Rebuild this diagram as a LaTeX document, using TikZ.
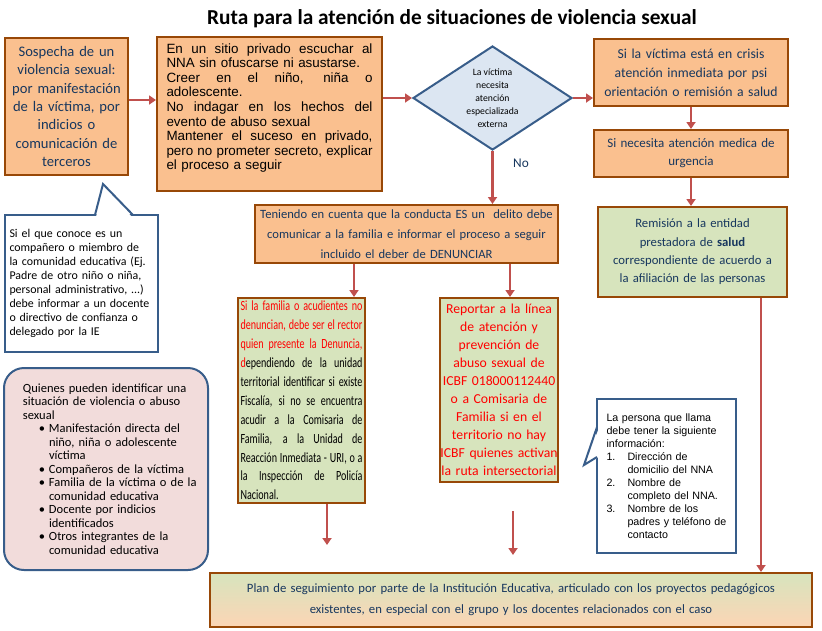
\documentclass[tikz,border=0pt]{standalone}
\usepackage{fontspec}
\setmainfont{Carlito}
\newfontfamily\arialfont{Liberation Sans}
\newfontfamily\narrowfont[FakeStretch=0.72]{Carlito}
\usetikzlibrary{arrows.meta,shapes.geometric}
\definecolor{boxorange}{RGB}{250,192,143}
\definecolor{boxgreen}{RGB}{215,228,189}
\definecolor{boxpeach}{RGB}{252,213,181}
\definecolor{boxbrown}{RGB}{152,72,7}
\definecolor{decisionblue}{RGB}{220,230,242}
\definecolor{noteblue}{RGB}{56,93,138}
\definecolor{notepink}{RGB}{242,220,219}
\definecolor{flowred}{RGB}{192,80,77}
\definecolor{navytext}{RGB}{23,55,94}
\definecolor{alertred}{RGB}{255,0,0}

% justified line, bullet item, numbered item
\newcommand{\jl}[1]{\makebox[\linewidth][s]{\spaceskip=\fontdimen2\font plus 1fil\relax#1}\\}
\newcommand{\bul}{\hangindent=26pt\hangafter=1\noindent\hspace*{16pt}\makebox[10pt][l]{\textbullet}}
\newcommand{\numit}[1]{\hangindent=21pt\hangafter=1\noindent\makebox[21pt][l]{#1}}

\tikzset{
  flowbox/.style={draw=boxbrown, line width=2pt, inner sep=0pt, text=navytext},
  orangebox/.style={flowbox, fill=boxorange},
  greenbox/.style={flowbox, fill=boxgreen},
  notebox/.style={draw=noteblue, line width=2pt, fill=white, inner sep=0pt, text=black, align=left},
  flow/.style={draw=flowred, line width=2.6pt, -{Triangle[length=7pt,width=9pt]}},
}

\begin{document}
\begin{tikzpicture}[x=1pt, y=-1pt]
  \useasboundingbox (0,0) rectangle (822,630);

  % Title
  \node[font=\bfseries\fontsize{21.3}{24}\selectfont] (title) at (452,19)
    {Ruta para la atención de situaciones de violencia sexual};

  % First row
  \node[orangebox, minimum width=123, minimum height=137, text width=115, align=center,
        font=\fontsize{14.6}{18.3}\selectfont] (sospecha) at (66.5,106.5)
    {Sospecha de un\\ violencia sexual:\\ por manifestación\\ de la víctima, por\\ indicios o\\ comunicación de\\ terceros};
  \node[orangebox, minimum width=225, minimum height=154, text width=206, align=left, text=black,
        font=\arialfont\fontsize{13.4}{14.6}\selectfont] (privado) at (269.5,114)
    {\jl{En un sitio privado escuchar al}
     NNA sin ofuscarse ni asustarse.\\
     \jl{Creer en el niño, niña o}
     adolescente.\\
     \jl{No indagar en los hechos del}
     evento de abuso sexual\\
     \jl{Mantener el suceso en privado,}
     \jl{pero no prometer secreto, explicar}
     el proceso a seguir\\ \mbox{}};
  \node[diamond, aspect=1.5, draw=noteblue, line width=2pt, fill=decisionblue, inner sep=0pt,
        minimum width=159, minimum height=104, align=center,
        font=\fontsize{9.7}{13}\selectfont] (decide) at (492.5,98)
    {La víctima\\ necesita\\ atención\\ especializada\\ externa};
  \node[font=\fontsize{13.3}{16}\selectfont, text=navytext] (nolabel) at (521,163) {No};

  % Right column
  \node[orangebox, minimum width=194, minimum height=67, text width=190, align=center,
        font=\fontsize{13.7}{19}\selectfont] (crisis) at (691,72.5)
    {Si la víctima está en crisis\\ atención inmediata por psi\\ orientación o remisión a salud};
  \node[orangebox, minimum width=194, minimum height=47, text width=190, align=center,
        font=\fontsize{13}{18}\selectfont] (urgencia) at (691,153.5)
    {Si necesita atención medica de\\ urgencia};
  \node[greenbox, minimum width=189, minimum height=90, text width=185, align=center,
        font=\fontsize{12.7}{18.3}\selectfont] (remision) at (692.5,252)
    {Remisión a la entidad\\ prestadora de \textbf{salud}\\ correspondiente de acuerdo a\\ la afiliación de las personas};

  % Middle column
  \node[orangebox, minimum width=303, minimum height=58, text width=303, align=center,
        font=\fontsize{12.6}{19.8}\selectfont] (denuncia) at (406.5,234)
    {Teniendo en cuenta que la conducta ES un\ \ delito debe\\
     comunicar a la familia e informar el proceso a seguir\\
     incluido el deber de DENUNCIAR};
  \node[greenbox, minimum width=127, minimum height=205, text width=122, align=left, text=black,
        font=\narrowfont\fontsize{14}{18.9}\selectfont] (familia) at (301.5,400.5)
    {\jl{\color{alertred}Si la familia o acudientes no}
     \jl{\color{alertred}denuncian, debe ser el rector}
     \jl{\color{alertred}quien presente la Denuncia,}
     \jl{\textcolor{alertred}{d}ependiendo de la unidad}
     \jl{territorial identificar si existe}
     \jl{Fiscalía, si no se encuentra}
     \jl{acudir a la Comisaria de}
     \jl{Familia, a la Unidad de}
     \jl{Reacción Inmediata - URI, o a}
     \jl{la Inspección de Policía}
     Nacional.};
  \node[greenbox, minimum width=118, minimum height=184, text width=124, inner xsep=-3pt,
        align=center, text=alertred, font=\fontsize{13.7}{18}\selectfont] (linea) at (499,390)
    {Reportar a la línea\\ de atención y\\ prevención de\\ abuso sexual de\\ ICBF 018000112440\\
     o a Comisaria de\\ Familia si en el\\ territorio no hay\\ ICBF quienes activan\\ la ruta intersectorial};

  % Bottom
  \node[flowbox, top color=boxgreen, bottom color=boxpeach, minimum width=602, minimum height=54,
        text width=595, align=center, font=\fontsize{12.7}{21}\selectfont] (plan) at (511,600)
    {Plan de seguimiento por parte de la Institución Educativa, articulado con los proyectos pedagógicos\\
     existentes, en especial con el grupo y los docentes relacionados con el caso};

  % Notes
  \node[notebox, minimum width=153, minimum height=137, text width=144,
        font=\fontsize{11.9}{14}\selectfont] (conoce) at (81.5,283.5)
    {Si el que conoce es un\\ compañero o miembro de\\ la comunidad educativa (Ej.\\
     Padre de otro niño o niña,\\ personal administrativo, ...)\\ debe informar a un docente\\
     o directivo de confianza o\\ delegado por la IE};
  \fill[white] (96,217) -- (103,185) -- (132,217) -- cycle;
  \draw[noteblue, line width=2pt, line join=miter] (95,215) -- (103,184) -- (133,215);

  \node[notebox, fill=notepink, rounded corners=20pt, minimum width=204, minimum height=202,
        text width=190, font=\fontsize{12.5}{13.5}\selectfont] (quienes) at (106,469)
    {\leftskip=12pt Quienes pueden identificar una\newline situación de violencia o abuso\newline sexual\par
     \bul Manifestación directa del\newline niño, niña o adolescente\newline víctima\par
     \bul Compañeros de la víctima\par
     \bul Familia de la víctima o de la\newline comunidad educativa\par
     \bul Docente por indicios\newline identificados\par
     \bul Otros integrantes de la\newline comunidad educativa\par};

  \node[notebox, minimum width=139, minimum height=154, text width=126,
        font=\arialfont\fontsize{10.7}{13}\selectfont] (llama) at (666.5,476)
    {\leftskip=3pt La persona que llama\newline debe tener la siguiente\newline información:\par
     \numit{1.}Dirección de\newline domicilio del NNA\par
     \numit{2.}Nombre de\newline completo del NNA.\par
     \numit{3.}Nombre de los\newline padres y teléfono de\newline contacto\par};
  \fill[white] (599,428) -- (584,465) -- (599,457) -- cycle;
  \draw[noteblue, line width=2pt, line join=miter] (597,427) -- (584,465) -- (597,457);

  % Arrows
  \draw[flow] ([yshift=6.5]sospecha.east) -- ([yshift=6.5]sospecha.east -| privado.west);
  \draw[flow] (privado.east |- decide.west) -- (decide.west);
  \draw[flow] (decide.east) -- (decide.east -| crisis.west);
  \draw[flow] (crisis.south) -- (urgencia.north);
  \draw[flow] (urgencia.south) -- (urgencia.south |- remision.north);
  \draw[flow] ([xshift=-27]remision.south east) -- ([xshift=-27]remision.south east |- plan.north);
  \draw[flow] (decide.south) -- (decide.south |- denuncia.north);
  \draw[flow] ([xshift=-12]familia.north east |- denuncia.south) -- ([xshift=-12]familia.north east);
  \draw[flow] ([xshift=11]linea.north |- denuncia.south) -- ([xshift=11]linea.north);
  \coordinate (famout) at (327,545);
  \draw[flow] (familia.south -| famout) -- (famout);
  \coordinate (lineastart) at (513,511);
  \coordinate (lineaend) at (513,555);
  \draw[flow] (lineastart) -- (lineaend);
\end{tikzpicture}
\end{document}
